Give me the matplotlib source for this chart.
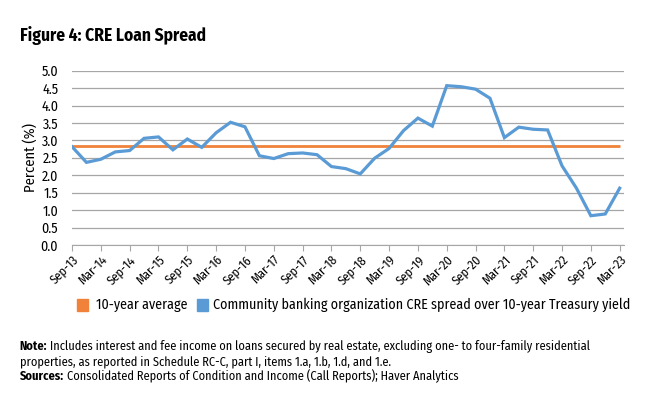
import matplotlib
matplotlib.use('Agg')
import matplotlib.pyplot as plt
import numpy as np

plt.rcParams['font.family'] = ['Fira Sans Condensed', 'DejaVu Sans']

# quarterly, Sep-13 .. Mar-23
quarters = ['Sep-13', 'Dec-13', 'Mar-14', 'Jun-14', 'Sep-14', 'Dec-14', 'Mar-15', 'Jun-15',
            'Sep-15', 'Dec-15', 'Mar-16', 'Jun-16', 'Sep-16', 'Dec-16', 'Mar-17', 'Jun-17',
            'Sep-17', 'Dec-17', 'Mar-18', 'Jun-18', 'Sep-18', 'Dec-18', 'Mar-19', 'Jun-19',
            'Sep-19', 'Dec-19', 'Mar-20', 'Jun-20', 'Sep-20', 'Dec-20', 'Mar-21', 'Jun-21',
            'Sep-21', 'Dec-21', 'Mar-22', 'Jun-22', 'Sep-22', 'Dec-22', 'Mar-23']
cre_spread = [2.82, 2.37, 2.46, 2.67, 2.71, 3.06, 3.10, 2.73,
              3.04, 2.80, 3.22, 3.52, 3.39, 2.56, 2.48, 2.62,
              2.64, 2.59, 2.25, 2.19, 2.04, 2.49, 2.77, 3.28,
              3.64, 3.41, 4.57, 4.54, 4.47, 4.21, 3.08, 3.38,
              3.32, 3.30, 2.27, 1.63, 0.84, 0.89, 1.63]
ten_year_avg = 2.85

blue = '#5B9BD5'
orange = '#F0823A'

fig = plt.figure(figsize=(6.62, 3.96), dpi=100)
ax = fig.add_axes([0.1088, 0.3813, 0.8338, 0.4402])

x = np.arange(len(quarters))
ax.plot(x, [ten_year_avg] * len(x), color=orange, lw=2.0, solid_capstyle='butt', zorder=3)
ax.plot(x, cre_spread, color=blue, lw=2.3, solid_joinstyle='miter', zorder=4)

ax.set_xlim(0, 38.3)
ax.set_ylim(0, 5)
yt = np.arange(0, 5.01, 0.5)
ax.set_yticks(yt)
ax.set_yticklabels(['%.1f' % v for v in yt], fontsize=10)
ax.yaxis.grid(True, color='#A6A6A6', lw=0.9)
ax.set_axisbelow(True)
ax.tick_params(axis='y', length=0, pad=10)

ax.set_xticks(x[::2])
ax.set_xticklabels(quarters[::2], rotation=45, ha='right', rotation_mode='anchor', fontsize=9)
ax.tick_params(axis='x', length=4, color='#A6A6A6', pad=2)

for s in ['left', 'right', 'top']:
    ax.spines[s].set_visible(False)
ax.spines['bottom'].set_color('#A6A6A6')

ax.set_ylabel('Percent (%)', fontsize=10.5)
ax.yaxis.set_label_coords(-0.062, 0.5)

fig.text(0.03, 0.8965, 'Figure 4: CRE Loan Spread', fontsize=12.5, fontweight='bold')

# legend
fig.patches.append(plt.Rectangle((0.1163, 0.2146), 0.0166, 0.0303, transform=fig.transFigure,
                                 color=orange, figure=fig))
fig.text(0.145, 0.23, '10-year average', fontsize=10.1, va='center')
fig.patches.append(plt.Rectangle((0.2976, 0.2146), 0.0166, 0.0303, transform=fig.transFigure,
                                 color=blue, figure=fig))
fig.text(0.3218, 0.23, 'Community banking organization CRE spread over 10-year Treasury yield',
         fontsize=10.1, va='center')

# notes: bold lead-in followed by regular text
renderer = fig.canvas.get_renderer()


def note_line(y, lead, body):
    x0 = 0.03
    if lead:
        t = fig.text(x0, y, lead, fontsize=8.9, fontweight='bold', va='center')
        bb = t.get_window_extent(renderer)
        x0 = bb.x1 / fig.bbox.width + 0.004
    fig.text(x0, y, body, fontsize=8.9, va='center')


note_line(0.125, 'Note:', 'Includes interest and fee income on loans secured by real estate, excluding one- to four-family residential')
note_line(0.087, None, 'properties, as reported in Schedule RC-C, part I, items 1.a, 1.b, 1.d, and 1.e.')
note_line(0.049, 'Sources:', 'Consolidated Reports of Condition and Income (Call Reports); Haver Analytics')

fig.savefig('out.png', dpi=100)
